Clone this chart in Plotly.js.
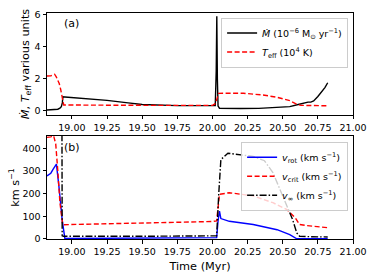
<!DOCTYPE html>
<html><head><meta charset="utf-8">
<script src="https://cdn.plot.ly/plotly-3.0.1.min.js"></script>
<style>html,body{margin:0;padding:0;background:#fff}#chart{width:374px;height:277px}</style>
</head><body><div id="chart"></div>
<script>
// Panel (a)
const tMdot = [18.823, 18.85, 18.88, 18.90, 18.915, 18.925, 18.932, 18.936, 18.95, 19.0, 19.1, 19.25, 19.4, 19.5, 19.75, 20.0, 20.02, 20.027, 20.031, 20.035, 20.04, 20.05, 20.1, 20.2, 20.33, 20.45, 20.55, 20.61, 20.65, 20.68, 20.70, 20.72, 20.75, 20.78, 20.80, 20.82];
const mdot = [0.06, 0.07, 0.09, 0.11, 0.18, 0.27, 0.5, 0.88, 0.87, 0.84, 0.77, 0.66, 0.5, 0.4, 0.33, 0.32, 0.34, 2.5, 5.88, 2.0, 0.3, 0.17, 0.15, 0.15, 0.16, 0.22, 0.27, 0.4, 0.5, 0.55, 0.55, 0.62, 0.9, 1.2, 1.45, 1.75];
const tTeff = [18.823, 18.85, 18.865, 18.877, 18.89, 18.90, 18.91, 18.92, 18.93, 18.936, 18.942, 19.5, 20.0, 20.02, 20.035, 20.045, 20.1, 20.22, 20.36, 20.46, 20.55, 20.60, 20.63, 20.7, 20.82];
const teff = [2.17, 2.18, 2.25, 2.28, 2.1, 1.9, 1.7, 1.35, 0.9, 0.6, 0.37, 0.35, 0.35, 0.45, 0.9, 1.09, 1.1, 1.1, 0.99, 0.85, 0.64, 0.41, 0.35, 0.33, 0.32];
// Panel (b)
const tRot = [18.823, 18.85, 18.867, 18.89, 18.91, 18.93, 18.95, 19.5, 20.0, 20.03, 20.04, 20.05, 20.06, 20.12, 20.29, 20.46, 20.55, 20.60, 20.82];
const vrot = [278, 290, 308, 330, 220, 90, 2, 3, 4, 6, 80, 123, 90, 78, 64, 41, 19, 1, 1];
const tCrit = [18.823, 18.85, 18.87, 18.885, 18.90, 18.915, 18.935, 19.25, 19.5, 19.75, 20.0, 20.03, 20.045, 20.05, 20.12, 20.29, 20.43, 20.53, 20.59, 20.62, 20.67, 20.75, 20.82];
const vcrit = [448, 450, 455, 420, 300, 160, 63, 67, 70, 73, 77, 80, 160, 197, 204, 190, 160, 130, 93, 64, 59, 54, 50];
const tInf = [18.823, 18.926, 18.931, 18.94, 19.5, 20.0, 20.03, 20.045, 20.06, 20.11, 20.29, 20.37, 20.43, 20.48, 20.53, 20.57, 20.60, 20.62, 20.7, 20.82];
const vinf = [1500, 1500, 14, 12, 12, 13, 14, 200, 350, 378, 364, 345, 293, 219, 145, 86, 27, 12, 10, 9];

const F = 'DejaVu Sans, sans-serif';
const traces = [
  {x: tMdot, y: mdot, xaxis: 'x', yaxis: 'y', mode: 'lines', line: {color: '#000', width: 1.4},
   name: '<i>Ṁ</i> (10<sup>−6</sup> M<sub>⊙</sub> yr<sup>−1</sup>)', legend: 'legend'},
  {x: tTeff, y: teff, xaxis: 'x', yaxis: 'y', mode: 'lines', line: {color: '#ff0000', width: 1.4, dash: '5px,2.5px'},
   name: '<i>T</i><sub>eff</sub> (10<sup>4</sup> K)', legend: 'legend'},
  {x: tRot, y: vrot, xaxis: 'x2', yaxis: 'y2', mode: 'lines', line: {color: '#0000ff', width: 1.4},
   name: '<i>v</i><sub>rot</sub> (km s<sup>−1</sup>)', legend: 'legend2'},
  {x: tCrit, y: vcrit, xaxis: 'x2', yaxis: 'y2', mode: 'lines', line: {color: '#ff0000', width: 1.4, dash: '5px,2.5px'},
   name: '<i>v</i><sub>crit</sub> (km s<sup>−1</sup>)', legend: 'legend2'},
  {x: tInf, y: vinf, xaxis: 'x2', yaxis: 'y2', mode: 'lines', line: {color: '#000', width: 1.4, dash: '7px,2px,1.5px,2px'},
   name: '<i>v</i><sub>∞</sub> (km s<sup>−1</sup>)', legend: 'legend2'}
];
const xticks = [19.0, 19.25, 19.5, 19.75, 20.0, 20.25, 20.5, 20.75, 21.0];
const ax = {showline: true, mirror: true, linecolor: '#000', linewidth: 1, ticks: 'outside', ticklen: 3.5,
  tickcolor: '#000', tickwidth: 1, showgrid: false, zeroline: false, tickfont: {family: F, size: 9.5, color: '#000'}};
const layout = {
  width: 374, height: 277, margin: {l: 47, r: 21, t: 13, b: 38},
  paper_bgcolor: '#fff', plot_bgcolor: '#fff', font: {family: F, color: '#000'},
  xaxis: Object.assign({}, ax, {domain: [0, 1], anchor: 'y', range: [18.823, 21.0], tickvals: xticks, tickformat: '.2f'}),
  yaxis: Object.assign({}, ax, {domain: [0.5487, 1], anchor: 'x', range: [-0.25, 6.08], tickvals: [0, 2, 4, 6],
    title: {text: '<i>Ṁ</i>, <i>T</i><sub>eff</sub> various units', font: {family: F, size: 11.3}, standoff: 2}}),
  xaxis2: Object.assign({}, ax, {domain: [0, 1], anchor: 'y2', range: [18.823, 21.0], tickvals: xticks, tickformat: '.2f',
    title: {text: 'Time (Myr)', font: {family: F, size: 11.3}, standoff: 6}}),
  yaxis2: Object.assign({}, ax, {domain: [0, 0.4558], anchor: 'x2', range: [0, 454], tickvals: [0, 100, 200, 300, 400],
    title: {text: 'km s<sup>−1</sup>', font: {family: F, size: 11.3}, standoff: 0}}),
  legend: {x: 0.984, y: 0.98, xanchor: 'right', yanchor: 'top', bgcolor: 'rgba(255,255,255,0.8)', bordercolor: '#ccc',
    borderwidth: 1, font: {family: F, size: 9.5}, itemwidth: 30, tracegroupgap: 0},
  legend2: {x: 0.984, y: 0.43, xanchor: 'right', yanchor: 'top', bgcolor: 'rgba(255,255,255,0.8)', bordercolor: '#ccc',
    borderwidth: 1, font: {family: F, size: 9.5}, itemwidth: 30, tracegroupgap: 0},
  annotations: [
    {text: '(a)', xref: 'paper', yref: 'paper', x: 0.05, y: 0.955, xanchor: 'left', yanchor: 'middle', showarrow: false, font: {family: F, size: 11}},
    {text: '(b)', xref: 'paper', yref: 'paper', x: 0.05, y: 0.405, xanchor: 'left', yanchor: 'middle', showarrow: false, font: {family: F, size: 11}}
  ],
  showlegend: true
};
Plotly.newPlot('chart', traces, layout, {staticPlot: true, displayModeBar: false});
</script></body></html>
